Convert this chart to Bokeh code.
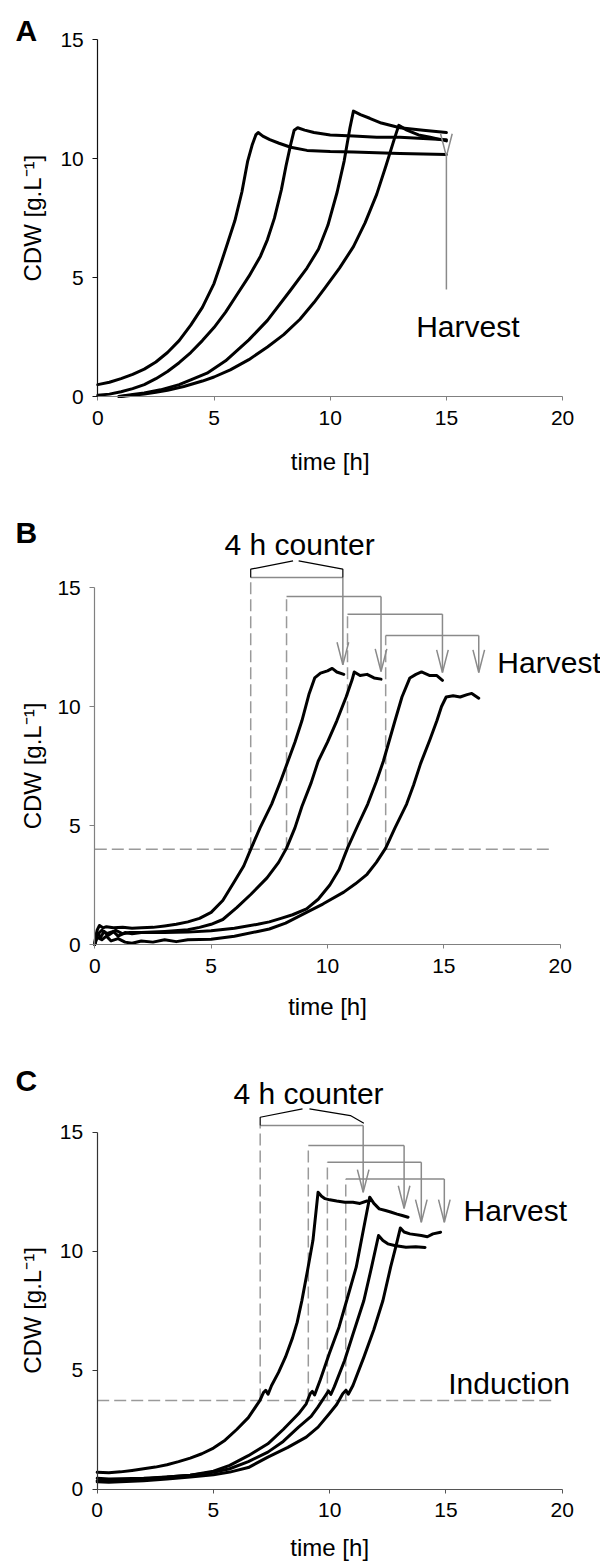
import math
from bokeh.plotting import figure
from bokeh.models import Label, Range1d, FixedTicker
from bokeh.layouts import column
from bokeh.embed import file_html
from bokeh.resources import INLINE

# ---------------- DATA ----------------
# Panel A: four batch cultures, CDW [g/L] vs time [h]
a1_t = [0, 0.5, 1, 1.5, 2, 2.5, 3, 3.5, 4, 4.5, 5, 5.3, 5.6, 5.9, 6.2, 6.45, 6.65, 6.8, 6.9, 7.1, 7.4, 7.8, 8.3, 9.0, 10, 11, 12, 13, 14, 15]
a1_v = [0.5, 0.6, 0.75, 0.93, 1.15, 1.45, 1.85, 2.35, 3.0, 3.75, 4.75, 5.6, 6.5, 7.4, 8.6, 9.9, 10.6, 11.0, 11.1, 10.95, 10.8, 10.65, 10.48, 10.35, 10.3, 10.28, 10.25, 10.22, 10.2, 10.18]
a2_t = [0, 0.5, 1, 1.5, 2, 2.5, 3, 3.5, 4, 4.5, 5, 5.5, 6, 6.5, 7, 7.3, 7.6, 7.9, 8.1, 8.3, 8.45, 8.6, 8.9, 9.3, 10, 11, 12, 13, 14, 15]
a2_v = [0.05, 0.1, 0.2, 0.33, 0.5, 0.75, 1.05, 1.42, 1.85, 2.35, 2.9, 3.55, 4.3, 5.05, 5.9, 6.6, 7.5, 8.7, 9.7, 10.6, 11.2, 11.3, 11.2, 11.1, 11.0, 10.95, 10.9, 10.9, 10.85, 10.8]
a3_t = [0.9, 1.5, 2, 2.7, 3.5, 4, 4.7, 5.5, 6.5, 7.3, 8.3, 9.0, 9.5, 9.9, 10.3, 10.6, 10.85, 11.0, 11.3, 11.7, 12.2, 13, 14, 15]
a3_v = [0.0, 0.08, 0.15, 0.28, 0.5, 0.7, 0.98, 1.5, 2.38, 3.2, 4.48, 5.4, 6.2, 7.2, 8.6, 9.9, 11.3, 12.0, 11.85, 11.7, 11.5, 11.3, 11.2, 11.1]
a4_t = [1.0, 1.5, 2, 2.5, 3, 3.7, 4.5, 5.0, 5.7, 6.5, 7.3, 8.0, 8.7, 9.3, 9.8, 10.4, 11.0, 11.5, 12.0, 12.4, 12.75, 12.95, 13.3, 13.8, 14.3, 15]
a4_v = [0.0, 0.05, 0.1, 0.18, 0.26, 0.42, 0.65, 0.82, 1.12, 1.55, 2.08, 2.6, 3.25, 3.95, 4.6, 5.4, 6.3, 7.3, 8.5, 9.7, 10.8, 11.4, 11.2, 11.0, 10.9, 10.75]
a_harvest_t = 15
a_arrow_from, a_arrow_tip = 4.5, 10.1

# Panel B: induction at CDW = 4 g/L, harvest 4 h later
b1_t = [0, 0.1, 0.2, 0.35, 0.5, 0.8, 1.2, 1.6, 2.0, 2.5, 3, 3.5, 4, 4.5, 5, 5.5, 6, 6.4, 6.7, 7.1, 7.6, 8.0, 8.3, 8.6, 8.9, 9.2, 9.45, 9.7, 10.0, 10.2, 10.4, 10.7]
b1_v = [0.1, 0.6, 0.8, 0.7, 0.75, 0.7, 0.72, 0.68, 0.7, 0.72, 0.78, 0.85, 0.95, 1.1, 1.35, 1.85, 2.65, 3.3, 4.0, 4.9, 5.9, 6.9, 7.7, 8.5, 9.4, 10.5, 11.2, 11.4, 11.5, 11.6, 11.45, 11.35]
b2_t = [0, 0.1, 0.25, 0.4, 0.6, 0.9, 1.2, 1.5, 2, 3, 4, 4.5, 5, 5.5, 6.1, 6.7, 7.4, 7.9, 8.24, 8.6, 8.9, 9.3, 9.6, 10.0, 10.4, 10.8, 11.05, 11.15, 11.4, 11.7, 12.0, 12.3]
b2_v = [0.0, 0.5, 0.3, 0.55, 0.4, 0.6, 0.45, 0.5, 0.5, 0.55, 0.62, 0.72, 0.85, 1.05, 1.55, 2.1, 2.8, 3.45, 4.05, 4.9, 5.8, 6.8, 7.7, 8.5, 9.4, 10.4, 11.1, 11.45, 11.3, 11.35, 11.2, 11.15]
b3_t = [0, 0.1, 0.3, 0.5, 0.8, 1.0, 1.3, 1.6, 2, 3, 4, 5, 6, 7, 7.5, 8, 8.5, 9.1, 9.6, 10.1, 10.5, 10.86, 11.3, 11.73, 12.1, 12.4, 12.9, 13.2, 13.54, 13.8, 14.04, 14.4, 14.7, 14.94]
b3_v = [0.0, 0.4, 0.6, 0.45, 0.55, 0.35, 0.5, 0.45, 0.5, 0.5, 0.52, 0.58, 0.68, 0.85, 0.95, 1.1, 1.25, 1.5, 1.9, 2.5, 3.15, 4.05, 5.0, 5.9, 6.85, 7.7, 9.4, 10.4, 11.2, 11.35, 11.45, 11.3, 11.3, 11.1]
b4_t = [0, 0.1, 0.3, 0.5, 0.7, 1.0, 1.3, 1.6, 2.0, 2.5, 3, 3.5, 4, 5, 6, 7, 7.5, 8.2, 9.1, 9.8, 10.7, 11.2, 11.7, 12.1, 12.5, 12.9, 13.4, 13.7, 14.0, 14.4, 14.7, 14.9, 15.1, 15.4, 15.7, 16.0, 16.2, 16.5]
b4_v = [0.0, 0.3, 0.2, 0.35, 0.15, 0.25, 0.1, 0.05, 0.15, 0.1, 0.2, 0.12, 0.2, 0.22, 0.35, 0.55, 0.65, 0.9, 1.35, 1.7, 2.2, 2.55, 2.95, 3.45, 4.05, 4.9, 5.9, 6.7, 7.6, 8.6, 9.4, 10.0, 10.4, 10.45, 10.4, 10.5, 10.55, 10.35]
b_threshold = 4.0
b_threshold_end = 19.64
b_induction_t = [6.7, 8.24, 10.86, 12.5]
b_harvest_t = [10.66, 12.3, 14.94, 16.5]
b_bracket_v = [15.42, 14.62, 13.88, 12.98]
b_tip_v = [11.75, 11.47, 11.43, 11.43]

# Panel C: induction at CDW = 3.7 g/L, harvest 4 h later
c1_t = [0, 0.5, 1, 1.5, 2, 2.5, 3, 3.5, 4, 4.5, 5, 5.5, 6, 6.5, 7.0, 7.15, 7.25, 7.35, 7.5, 7.8, 8.1, 8.4, 8.6, 8.8, 9.05, 9.28, 9.5, 9.65, 9.8, 10.0, 10.3, 10.65, 11.0, 11.3, 11.6]
c1_v = [0.7, 0.68, 0.72, 0.78, 0.85, 0.92, 1.02, 1.15, 1.3, 1.48, 1.72, 2.05, 2.5, 3.0, 3.72, 4.05, 4.15, 3.98, 4.35, 4.9, 5.55, 6.35, 7.0, 7.9, 9.2, 10.45, 12.47, 12.3, 12.2, 12.15, 12.1, 12.05, 12.05, 12.0, 12.1]
c2_t = [0, 0.5, 1, 2, 3, 4, 5, 5.7, 6.5, 7.34, 8.0, 8.66, 8.99, 9.16, 9.25, 9.35, 9.6, 9.98, 10.4, 10.73, 11.14, 11.47, 11.72, 11.9, 12.13, 12.4, 12.62, 12.9, 13.12, 13.37]
c2_v = [0.45, 0.42, 0.43, 0.45, 0.5, 0.58, 0.75, 0.99, 1.4, 1.9, 2.5, 3.16, 3.58, 4.0, 4.1, 3.95, 4.6, 5.68, 6.8, 7.92, 9.32, 11.0, 12.26, 12.0, 11.77, 11.7, 11.64, 11.55, 11.49, 11.42]
c3_t = [0, 0.5, 1, 2, 3, 4, 5, 5.7, 6.5, 7.34, 8.0, 8.66, 9.2, 9.49, 9.82, 9.95, 10.05, 10.2, 10.64, 11.0, 11.47, 11.8, 12.1, 12.29, 12.5, 12.79, 13.28, 13.7, 14.1]
c3_v = [0.35, 0.33, 0.36, 0.42, 0.5, 0.58, 0.7, 0.85, 1.15, 1.55, 2.0, 2.6, 3.05, 3.44, 3.93, 4.12, 3.97, 4.3, 5.4, 6.5, 7.92, 9.32, 10.65, 10.44, 10.3, 10.23, 10.16, 10.18, 10.15]
c4_t = [0, 0.5, 1, 2, 3, 4, 5, 5.7, 6.5, 7.34, 8.2, 8.99, 9.5, 9.98, 10.3, 10.56, 10.7, 10.8, 11.0, 11.47, 11.9, 12.29, 12.62, 12.85, 13.04, 13.2, 13.45, 13.94, 14.2, 14.44, 14.77]
c4_v = [0.3, 0.28, 0.3, 0.35, 0.42, 0.5, 0.6, 0.71, 0.9, 1.34, 1.75, 2.18, 2.6, 3.16, 3.55, 4.0, 4.15, 3.98, 4.35, 5.54, 6.7, 7.92, 9.32, 10.2, 10.97, 10.8, 10.72, 10.65, 10.6, 10.72, 10.79]
c_threshold = 3.72
c_threshold_end = 19.7
c_induction_t = [7.01, 9.08, 9.9, 10.69]
c_harvest_t = [11.44, 13.2, 13.94, 14.93]
c_bracket_v = [15.27, 14.43, 13.73, 13.03]
c_tip_v = [12.47, 11.79, 11.21, 11.21]

x_ticks = [0, 5, 10, 15, 20]
y_ticks = [0, 5, 10, 15]
x_label = "time [h]"
y_label = "CDW [g.L\u207b\u00b9]"

# ---------------- STYLE ----------------
FONT = "Liberation Sans"
GRAY = "#8a8a8a"
DGRAY = "#9a9a9a"
FIG_W = 600
HEAD_LEN = 0.95   # data units (y)
HEAD_HW = 0.25    # data units (x)


class Panel:
    """One figure whose frame fills the whole canvas; axes pinned at t=0 / CDW=0."""

    def __init__(self, top, h, x0, xs, y0, ys, yaxis_color, xaxis_color):
        self.top, self.h, self.x0, self.xs, self.y0, self.ys = top, h, x0, xs, y0, ys
        xr = Range1d(-x0 / xs, (FIG_W - x0) / xs)
        yr = Range1d((y0 - (top + h)) / ys, (y0 - top) / ys)
        p = figure(width=FIG_W, height=h, x_range=xr, y_range=yr,
                   toolbar_location=None, output_backend="svg",
                   min_border_left=0, min_border_right=0, min_border_top=0,
                   min_border_bottom=0, title=None)
        p.outline_line_color = None
        p.grid.visible = False
        p.background_fill_color = "white"
        p.border_fill_color = "white"
        for ax, ticks, col, bnd in ((p.xaxis[0], x_ticks, xaxis_color, (0, 20)),
                                    (p.yaxis[0], y_ticks, yaxis_color, (0, 15))):
            ax.fixed_location = 0
            ax.ticker = FixedTicker(ticks=ticks)
            ax.bounds = bnd
            ax.axis_line_color = col
            ax.axis_line_width = 1.2
            ax.major_tick_line_color = col
            ax.major_tick_in = 0
            ax.minor_tick_line_color = None
            ax.major_label_text_font = FONT
            ax.major_label_text_font_size = "21px"
            ax.major_label_text_color = "black"
        p.xaxis.major_tick_out = 4
        p.yaxis.major_tick_out = 5
        p.xaxis.major_label_standoff = 10
        p.yaxis.major_label_standoff = 9
        self.p = p

    def dx(self, px):
        return (px - self.x0) / self.xs

    def dy(self, py):
        return (self.y0 - py) / self.ys

    def text(self, txt, px, py, size, align="left", base="middle", bold=False, angle=0.0):
        self.p.add_layout(Label(x=self.dx(px), y=self.dy(py), text=txt, text_font=FONT,
                                text_font_size=size, text_align=align, text_baseline=base,
                                text_font_style="bold" if bold else "normal", angle=angle,
                                text_color="black"))

    def labels(self, letter, letter_base_py, xlabel_mid_py):
        self.text(letter, 15, letter_base_py, "30px", base="alphabetic", bold=True)
        self.text(x_label, self.x0 + 10 * self.xs, xlabel_mid_py, "24px",
                  align="center", base="middle")
        self.text(y_label, 32, self.y0 - 7.5 * self.ys, "24px", align="center",
                  base="alphabetic", angle=math.pi / 2)

    def curves(self, series):
        for t, v in series:
            self.p.line(t, v, line_color="black", line_width=3, line_join="round", line_cap="round")

    def arrows(self, xs, v_from, v_tip):
        for x, f, tip in zip(xs, v_from, v_tip):
            self.p.line([x, x], [f, tip], line_color=GRAY, line_width=1.5)
            self.p.line([x - HEAD_HW, x, x + HEAD_HW], [tip + HEAD_LEN, tip, tip + HEAD_LEN],
                        line_color=GRAY, line_width=1.5)

    def counters(self, ind_t, harv_t, brk_v, tip_v, thr, thr_end):
        p = self.p
        p.line([0, thr_end], [thr, thr], line_color=DGRAY, line_width=1.5, line_dash="12 5")
        for a, b, lv in zip(ind_t, harv_t, brk_v):
            p.line([a, a], [thr, lv], line_color=DGRAY, line_width=1.5, line_dash="12 5")
            p.line([a, b], [lv, lv], line_color=GRAY, line_width=1.5)
        self.arrows(harv_t, brk_v, tip_v)

    def brace(self, xs_l, ys_l, xs_r, ys_r):
        self.p.line(xs_l, ys_l, line_color="black", line_width=1.2)
        self.p.line(xs_r, ys_r, line_color="black", line_width=1.2)


# ---------------- PANEL A ----------------
A = Panel(top=0, h=480, x0=97.3, xs=23.24, y0=396, ys=23.78,
          yaxis_color="#111111", xaxis_color="#808080")
A.curves([(a1_t, a1_v), (a2_t, a2_v), (a3_t, a3_v), (a4_t, a4_v)])
A.arrows([a_harvest_t], [a_arrow_from], [a_arrow_tip])
A.text("Harvest", A.x0 + 13.7 * A.xs, A.y0 - 2.95 * A.ys, "30px")
A.labels("A", 30, 461)

# ---------------- PANEL B ----------------
B = Panel(top=480, h=550, x0=94.3, xs=23.27, y0=944, ys=23.8,
          yaxis_color="#808080", xaxis_color="#808080")
B.counters(b_induction_t, b_harvest_t, b_bracket_v, b_tip_v, b_threshold, b_threshold_end)
B.curves([(b1_t, b1_v), (b2_t, b2_v), (b3_t, b3_v), (b4_t, b4_v)])
B.brace([b_induction_t[0], b_induction_t[0], 8.52], [b_bracket_v[0], 15.77, 16.12],
        [8.76, b_harvest_t[0], b_harvest_t[0]], [16.12, 15.77, b_bracket_v[0]])
B.text("4 h counter", B.x0 + 8.8 * B.xs, B.y0 - 16.79 * B.ys, "30px", align="center")
B.text("Harvest", B.x0 + 17.3 * B.xs, B.y0 - 11.86 * B.ys, "30px")
B.labels("B", 532, 1006)

# ---------------- PANEL C ----------------
C = Panel(top=1030, h=533, x0=96.7, xs=23.25, y0=1488.5, ys=23.8,
          yaxis_color="#333333", xaxis_color="#555555")
C.counters(c_induction_t, c_harvest_t, c_bracket_v, c_tip_v, c_threshold, c_threshold_end)
C.curves([(c1_t, c1_v), (c2_t, c2_v), (c3_t, c3_v), (c4_t, c4_v)])
C.brace([c_induction_t[0], c_induction_t[0], 8.83], [c_bracket_v[0], 15.62, 15.97],
        [9.13, 10.89, 11.47], [15.97, 15.69, 15.37])
C.text("4 h counter", C.x0 + 9.09 * C.xs, C.y0 - 16.6 * C.ys, "30px", align="center")
C.text("Harvest", C.x0 + 15.76 * C.xs, C.y0 - 11.7 * C.ys, "30px")
C.text("Induction", C.x0 + 15.1 * C.xs, C.y0 - 4.43 * C.ys, "30px")
C.labels("C", 1080, 1547)

layout = column(A.p, B.p, C.p, spacing=0)
open("out.html", "w").write(file_html(layout, INLINE))
